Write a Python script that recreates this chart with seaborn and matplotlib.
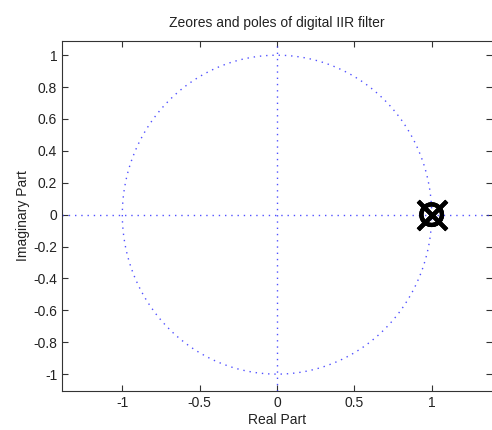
import numpy as np
import pandas as pd
import matplotlib.pyplot as plt
import seaborn as sns

# zeros and poles (all sit at z = 1)
zeros_re = [1.0, 1.0, 1.0]
zeros_im = [0.0, 0.0, 0.0]
poles_re = [1.0, 1.0, 1.0]
poles_im = [0.0, 0.0, 0.0]

xticks = [-1, -0.5, 0, 0.5, 1]
yticks = [-1, -0.8, -0.6, -0.4, -0.2, 0, 0.2, 0.4, 0.6, 0.8, 1]

zeros = pd.DataFrame({"re": zeros_re, "im": zeros_im})
poles = pd.DataFrame({"re": poles_re, "im": poles_im})

sns.set_theme(style="white")
plt.rcParams["font.family"] = ["Liberation Sans", "DejaVu Sans"]

fig = plt.figure(figsize=(4.92, 4.30), dpi=100)
ax = fig.add_axes([0.126, 0.091, 0.874, 0.814])

# unit circle and axes lines, like zplane
dots = (0, (1, 3.5))
theta = np.linspace(0, 2 * np.pi, 200)
ax.plot(np.cos(theta), np.sin(theta), ls=dots, color="#3333ff", lw=1.0, alpha=0.85)
ax.axhline(0, ls=dots, color="#3333ff", lw=1.0, alpha=0.85)
ax.axvline(0, ls=dots, color="#3333ff", lw=1.0, alpha=0.85)

sns.scatterplot(data=zeros, x="re", y="im", ax=ax, marker="o", s=220,
                facecolors="none", edgecolor="black", linewidth=3, zorder=5)
sns.scatterplot(data=poles, x="re", y="im", ax=ax, marker="x", s=420,
                color="black", linewidth=3, zorder=6)

ax.set_xlim(-1.39, 1.39)
ax.set_ylim(-1.105, 1.09)
ax.set_xticks(xticks)
ax.set_xticklabels(["-1", "-0.5", "0", "0.5", "1"])
ax.set_yticks(yticks)
ax.set_yticklabels(["-1", "-0.8", "-0.6", "-0.4", "-0.2", "0",
                    "0.2", "0.4", "0.6", "0.8", "1"])
ax.tick_params(direction="in", length=4, width=0.8, colors="#333333",
               labelsize=10, top=True, right=True, bottom=True, left=True)
ax.tick_params(labelcolor="#222222")
for sp in ax.spines.values():
    sp.set_color("#333333")
    sp.set_linewidth(0.8)
ax.spines["right"].set_visible(False)

ax.set_xlabel("Real Part", fontsize=10, color="#222222", labelpad=2)
ax.set_ylabel("Imaginary Part", fontsize=10, color="#222222", labelpad=2)
ax.set_title("Zeores and poles of digital IIR filter", fontsize=10,
             color="#222222", pad=10)

plt.savefig("out.png", dpi=100)
plt.close()
